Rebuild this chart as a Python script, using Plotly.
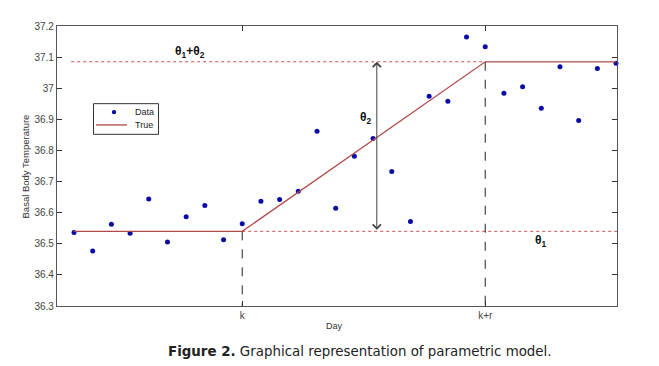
import plotly.graph_objects as go

# ---- data ----
days = list(range(1, 31))
bbt = [36.536, 36.477, 36.563, 36.534, 36.644, 36.506, 36.587, 36.623, 36.513, 36.564,
       36.637, 36.642, 36.669, 36.862, 36.614, 36.781, 36.838, 36.732, 36.572, 36.974,
       36.958, 37.165, 37.133, 36.984, 37.005, 36.936, 37.069, 36.896, 37.063, 37.080]
true_x = [1, 10, 23, 30]
true_y = [36.54, 36.54, 37.085, 37.085]
theta1 = 36.54
theta12 = 37.085
k_day = 10
kr_day = 23
xtick_vals = [10, 23]
xtick_text = ["k", "k+r"]
ytick_vals = [36.3, 36.4, 36.5, 36.6, 36.7, 36.8, 36.9, 37.0, 37.1, 37.2]
ytick_text = ["36.3", "36.4", "36.5", "36.6", "36.7", "36.8", "36.9", "37", "37.1", "37.2"]
arrow_day = 17.2

# page has an 8px body margin; figure is sized to fit the 659x366 window
OFF = 8
W, H = 659 - OFF, 366 - OFF
PL, PR, PT, PB = 57, 617, 23, 306          # plot area in page pixels
L, R, T, B = PL - OFF, (W + OFF) - PR, PT - OFF, (H + OFF) - PB


def px(xp):
    return (xp - PL) / (PR - PL)


def py(yp):
    return (PB - yp) / (PB - PT)


SANS = "Liberation Sans"
RED = "#b04a4a"
BLUE = "#0a0aa8"

fig = go.Figure()

# dotted reference lines
fig.add_trace(go.Scatter(x=[0.85, kr_day], y=[theta12, theta12], mode="lines",
                         line=dict(color="#d05050", width=1, dash="dot"),
                         showlegend=False, hoverinfo="skip"))
fig.add_trace(go.Scatter(x=[k_day, 30.3], y=[theta1, theta1], mode="lines",
                         line=dict(color="#d05050", width=1, dash="dot"),
                         showlegend=False, hoverinfo="skip", cliponaxis=False))
# dashed verticals
fig.add_trace(go.Scatter(x=[k_day, k_day], y=[theta1, 36.3], mode="lines",
                         line=dict(color="#222222", width=1, dash="dash"),
                         showlegend=False, hoverinfo="skip"))
fig.add_trace(go.Scatter(x=[kr_day, kr_day], y=[theta12, 36.3], mode="lines",
                         line=dict(color="#222222", width=1, dash="dash"),
                         showlegend=False, hoverinfo="skip"))

fig.add_trace(go.Scatter(x=days, y=bbt, mode="markers", name="Data", showlegend=False,
                         marker=dict(color=BLUE, size=5), cliponaxis=False))
fig.add_trace(go.Scatter(x=true_x, y=true_y, mode="lines", name="True", showlegend=False,
                         line=dict(color=RED, width=1.3)))

# double arrow
fig.add_annotation(x=arrow_day, y=theta12, ax=arrow_day, ay=theta1, xref="x", yref="y",
                   axref="x", ayref="y", text="", showarrow=True, arrowhead=4,
                   arrowside="end+start", arrowsize=1.6, arrowwidth=1, arrowcolor="#444444")

lab_font = dict(family=SANS, size=12, color="#111111")
fig.add_annotation(x=7.2, y=37.117, xref="x", yref="y", showarrow=False,
                   xanchor="center", yanchor="middle",
                   text="<b>θ<sub>1</sub>+θ<sub>2</sub></b>", font=lab_font)
fig.add_annotation(x=16.6, y=36.904, xref="x", yref="y", showarrow=False,
                   xanchor="center", yanchor="middle",
                   text="<b>θ<sub>2</sub></b>", font=lab_font)
fig.add_annotation(x=26.0, y=36.51, xref="x", yref="y", showarrow=False,
                   xanchor="center", yanchor="middle",
                   text="<b>θ<sub>1</sub></b>", font=lab_font)

# axis titles
fig.add_annotation(x=px(334), y=py(326), xref="paper", yref="paper", showarrow=False,
                   xanchor="center", yanchor="middle", text="Day",
                   font=dict(family=SANS, size=9, color="#333333"))
fig.add_annotation(x=px(25), y=py(165), xref="paper", yref="paper", showarrow=False,
                   xanchor="center", yanchor="middle", textangle=-90,
                   text="Basal Body Temperature",
                   font=dict(family=SANS, size=9.5, color="#333333"))
# caption
fig.add_annotation(x=px(360), y=py(352), xref="paper", yref="paper", showarrow=False,
                   xanchor="center", yanchor="middle",
                   text="<b>Figure 2.</b> Graphical representation of parametric model.",
                   font=dict(family="DejaVu Sans", size=13.4, color="#222222"))

# legend (compact, MATLAB-style box)
fig.add_shape(type="rect", xref="paper", yref="paper", x0=px(93.5), x1=px(158.5),
              y0=py(101.5), y1=py(132.5), line=dict(color="#333333", width=1),
              fillcolor="white", layer="above")
fig.add_shape(type="circle", xref="paper", yref="paper", x0=px(111.8), x1=px(116.2),
              y0=py(107.8), y1=py(112.2), line=dict(color=BLUE, width=0),
              fillcolor=BLUE, layer="above")
fig.add_shape(type="line", xref="paper", yref="paper", x0=px(96), x1=px(127),
              y0=py(123), y1=py(123), line=dict(color=RED, width=1.3), layer="above")
fig.add_annotation(x=px(133), y=py(110), xref="paper", yref="paper", showarrow=False,
                   xanchor="left", yanchor="middle", text="Data",
                   font=dict(family=SANS, size=9, color="#222222"))
fig.add_annotation(x=px(133), y=py(123), xref="paper", yref="paper", showarrow=False,
                   xanchor="left", yanchor="middle", text="True",
                   font=dict(family=SANS, size=9, color="#222222"))

axis_common = dict(showgrid=False, zeroline=False, showline=True, linecolor="#555555",
                   linewidth=1.2, mirror="ticks", ticks="inside", ticklen=5,
                   tickcolor="#333333",
                   tickfont=dict(family=SANS, size=10, color="#444444"))

fig.update_xaxes(range=[0.09, 30.05], tickmode="array", tickvals=xtick_vals,
                 ticktext=xtick_text, **axis_common)
fig.update_yaxes(range=[36.3, 37.2], tickmode="array", tickvals=ytick_vals,
                 ticktext=ytick_text, **axis_common)

fig.update_layout(
    width=W, height=H, margin=dict(l=L, r=R, t=T, b=B, pad=0),
    paper_bgcolor="white", plot_bgcolor="white",
    showlegend=False,
)

fig.write_html("out.html")
